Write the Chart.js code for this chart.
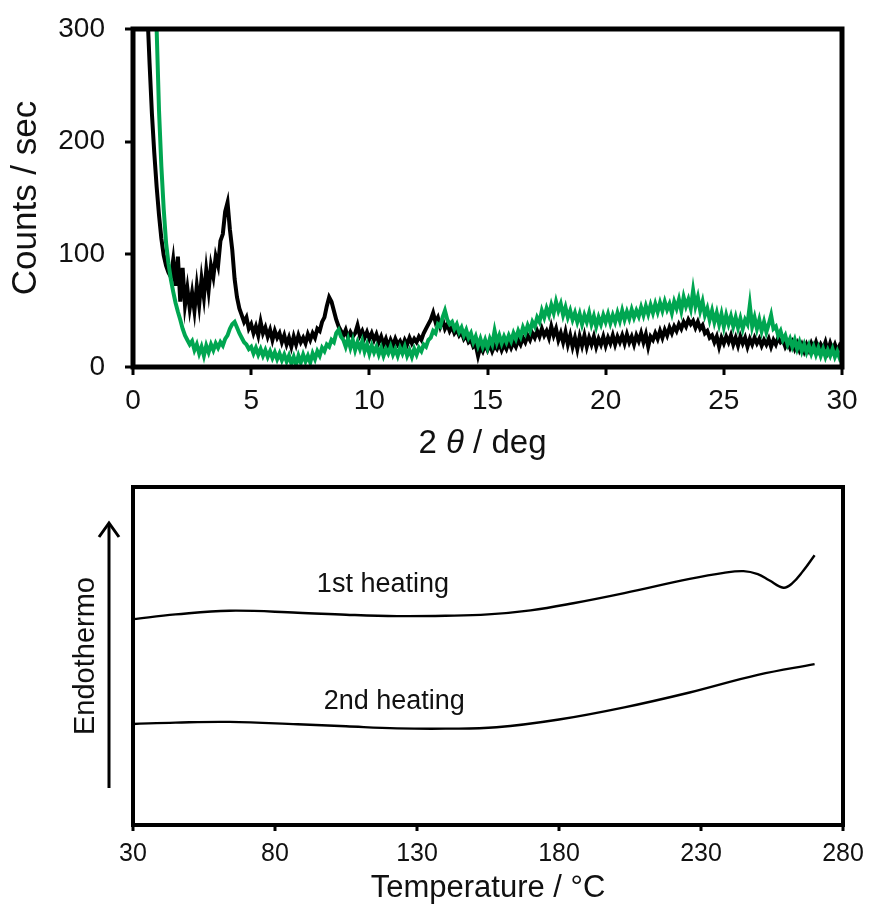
<!DOCTYPE html>
<html>
<head>
<meta charset="utf-8">
<title>XRD and DSC</title>
<script src="https://cdn.jsdelivr.net/npm/chart.js@4.4.1/dist/chart.umd.min.js"></script>
<style>
  html, body { margin: 0; padding: 0; background: #fff; }
  #wrap { position: relative; width: 869px; height: 908px; }
  #xrd { position: absolute; left: 0; top: 0; }
  #dsc { position: absolute; left: 0; top: 460px; }
</style>
</head>
<body>
<div id="wrap">
  <canvas id="xrd" width="869" height="460"></canvas>
  <canvas id="dsc" width="869" height="448"></canvas>
</div>
<script>
const xrdStart = 0.6;
const xrdStep = 0.1;
const xrdTicks = [0, 5, 10, 15, 20, 25, 30];
const countTicks = [0, 100, 200, 300];

const blackCounts = [
  320, 270, 225, 190, 160, 135, 114, 99, 90, 84,
  80, 95, 72, 98, 58, 88, 55, 70, 52, 66,
  50, 72, 55, 78, 62, 86, 68, 90, 80, 98,
  90, 112, 118, 138, 146, 122, 104, 78, 62, 52,
  46, 40, 44, 34, 38, 30, 36, 28, 40, 30,
  35, 27, 33, 24, 32, 26, 30, 22, 28, 20,
  26, 18, 27, 20, 28, 22, 26, 21, 29, 24,
  30, 26, 34, 32, 40, 44, 54, 62, 58, 50,
  42, 36, 32, 28, 33, 26, 31, 27, 30, 37,
  28, 32, 26, 31, 25, 30, 24, 29, 22, 27,
  20, 25, 18, 24, 19, 25, 20, 23, 18, 24,
  20, 26, 21, 25, 22, 27, 24, 30, 34, 38,
  42, 48, 40, 44, 36, 42, 34, 38, 32, 36,
  30, 33, 28, 31, 25, 28, 22, 24, 18, 20,
  10, 18, 14, 20, 15, 20, 14, 19, 16, 21,
  15, 20, 16, 22, 17, 22, 18, 24, 20, 26,
  22, 28, 24, 30, 26, 32, 27, 34, 28, 32,
  26, 36, 28, 34, 24, 30, 22, 31, 20, 28,
  18, 26, 16, 27, 19, 28, 18, 26, 20, 27,
  18, 25, 20, 27, 19, 26, 21, 28, 20, 27,
  22, 28, 21, 29, 22, 27, 20, 28, 23, 30,
  22, 29, 18, 27, 24, 30, 25, 32, 26, 33,
  28, 35, 30, 36, 32, 38, 34, 40, 36, 42,
  38, 41, 35, 40, 34, 37, 30, 32, 26, 28,
  22, 27, 18, 26, 21, 27, 22, 28, 20, 26,
  19, 27, 21, 26, 18, 25, 20, 26, 21, 25,
  19, 24, 20, 25, 18, 24, 20, 26, 22, 24,
  18, 22, 17, 22, 16, 21, 15, 20, 14, 20,
  15, 21, 16, 22, 15, 20, 16, 22, 14, 21,
  15, 20, 14, 19, 16
];

const greenCounts = [
  500, 440, 400, 350, 300, 228, 178, 140, 110, 92,
  78, 67, 57, 49, 42, 34, 28, 24, 20, 23,
  15, 20, 12, 18, 10, 19, 13, 20, 15, 21,
  17, 22, 19, 25, 28, 34, 38, 40, 35, 30,
  26, 22, 20, 16, 18, 12, 17, 11, 16, 10,
  15, 9, 14, 8, 13, 7, 12, 6, 11, 5,
  10, 3, 9, 2, 10, 4, 11, 5, 10, 4,
  12, 7, 14, 10, 17, 14, 20, 18, 24, 22,
  30, 33, 27, 24, 18, 25, 17, 24, 15, 22,
  16, 23, 14, 20, 12, 19, 13, 18, 11, 17,
  10, 16, 12, 18, 11, 16, 10, 17, 12, 18,
  10, 15, 9, 16, 11, 17, 14, 20, 18, 24,
  26, 32, 30, 38, 36, 44, 50, 42, 38, 40,
  34, 38, 31, 35, 28, 33, 26, 30, 22, 27,
  19, 25, 18, 24, 17, 25, 20, 32, 22, 28,
  21, 27, 22, 28, 23, 30, 25, 32, 27, 35,
  30, 37, 32, 40, 36, 44, 40, 50, 44, 52,
  46, 55, 48, 58, 50, 56, 46, 53, 44, 50,
  42, 48, 40, 47, 38, 46, 40, 48, 38, 45,
  36, 44, 38, 46, 40, 47, 39, 46, 40, 48,
  41, 50, 42, 49, 43, 51, 44, 50, 45, 53,
  46, 54, 47, 55, 48, 56, 49, 57, 50, 58,
  51, 56, 48, 58, 52, 60, 50, 62, 54, 60,
  52, 68, 54, 62, 50, 58, 46, 52, 42, 50,
  40, 48, 38, 47, 36, 46, 38, 45, 36, 44,
  35, 43, 34, 42, 38, 55, 36, 44, 34, 42,
  32, 40, 31, 38, 46, 34, 36, 28, 32, 24,
  28, 20, 25, 18, 24, 16, 22, 14, 20, 13,
  19, 12, 18, 11, 17, 10, 16, 9, 15, 10,
  16, 9, 14, 8, 12
];

// DSC traces (arbitrary heat-flow units, 0..100 over the plot height)
const firstTemps = [30, 45, 64, 88, 105, 123, 140, 155, 170, 185, 203, 226, 238, 245, 250, 254, 259, 262, 266, 270];
const firstFlow = [60.9, 62.3, 63.4, 62.8, 62.2, 61.8, 61.9, 62.3, 63.5, 65.6, 68.6, 72.8, 74.6, 75.1, 74.2, 72.4, 70.2, 71.4, 75.2, 79.8];
const secondTemps = [30, 45, 64, 88, 105, 123, 140, 158, 180, 203, 226, 250, 270];
const secondFlow = [29.9, 30.3, 30.5, 29.8, 29.2, 28.6, 28.5, 28.9, 31.2, 34.8, 39.2, 44.4, 47.6];
const tempTicks = [30, 80, 130, 180, 230, 280];

const traceNames = ['1st heating', '2nd heating'];
const traceLabelTemps = [118, 122];
const traceLabelFlows = [71, 36.4];

const FONT = '"Liberation Sans", Arial, Helvetica, sans-serif';
const INK = '#111';

function toPoints(xs, ys) {
  return ys.map((y, i) => ({ x: xs[i], y: y }));
}

const twoTheta = blackCounts.map((_, i) => +(xrdStart + i * xrdStep).toFixed(1));

// thick box round the plot area
const framePlugin = {
  id: 'frame',
  afterDatasetsDraw(chart, args, opts) {
    const { ctx, chartArea: a } = chart;
    ctx.save();
    ctx.strokeStyle = '#000';
    ctx.lineWidth = opts.width || 4;
    ctx.strokeRect(a.left, a.top, a.right - a.left, a.bottom - a.top);
    ctx.restore();
  }
};

// "2 θ / deg" with an italic theta
const thetaTitlePlugin = {
  id: 'thetaTitle',
  afterDraw(chart) {
    const { ctx, chartArea: a } = chart;
    const parts = [['2 ', 'normal'], ['\u03B8', 'italic'], [' / deg', 'normal']];
    ctx.save();
    ctx.fillStyle = INK;
    ctx.textBaseline = 'middle';
    let total = 0;
    parts.forEach(p => {
      ctx.font = p[1] + ' 33px ' + FONT;
      total += ctx.measureText(p[0]).width;
    });
    let x = (a.left + a.right) / 2 - total / 2 - 5;
    const y = chart.scales.x.bottom - 16;
    parts.forEach(p => {
      ctx.font = p[1] + ' 33px ' + FONT;
      ctx.fillText(p[0], x, y);
      x += ctx.measureText(p[0]).width;
    });
    ctx.restore();
  }
};

// upward arrow beside "Endothermo" and the trace names
const dscExtrasPlugin = {
  id: 'dscExtras',
  afterDraw(chart) {
    const { ctx, chartArea: a, scales } = chart;
    ctx.save();
    ctx.strokeStyle = '#000';
    ctx.lineWidth = 3;
    const ax = a.left - 24;
    const tip = a.top + 36;
    ctx.beginPath();
    ctx.moveTo(ax, a.bottom - 37);
    ctx.lineTo(ax, tip + 2);
    ctx.stroke();
    ctx.beginPath();
    ctx.moveTo(ax - 10, tip + 14);
    ctx.lineTo(ax, tip);
    ctx.lineTo(ax + 10, tip + 14);
    ctx.stroke();

    ctx.fillStyle = INK;
    ctx.font = '27px ' + FONT;
    ctx.textAlign = 'center';
    ctx.textBaseline = 'middle';
    traceNames.forEach((name, i) => {
      ctx.fillText(name, scales.x.getPixelForValue(traceLabelTemps[i]), scales.y.getPixelForValue(traceLabelFlows[i]));
    });
    ctx.restore();
  }
};

const tickGrid = (len, w) => ({
  display: true,
  drawOnChartArea: false,
  drawTicks: true,
  tickLength: len,
  tickWidth: w,
  tickColor: '#000',
  lineWidth: 0
});

new Chart(document.getElementById('xrd'), {
  type: 'line',
  data: {
    datasets: [
      {
        label: 'green',
        data: toPoints(twoTheta, greenCounts),
        borderColor: '#00a651',
        borderWidth: 4,
        pointRadius: 0,
        tension: 0,
        order: 0
      },
      {
        label: 'black',
        data: toPoints(twoTheta, blackCounts),
        borderColor: '#000',
        borderWidth: 4,
        pointRadius: 0,
        tension: 0,
        order: 1
      }
    ]
  },
  options: {
    responsive: false,
    animation: false,
    events: [],
    layout: { padding: { top: 29, right: 27, left: 0, bottom: 0 } },
    plugins: { legend: { display: false }, tooltip: { enabled: false }, frame: { width: 5 } },
    scales: {
      x: {
        type: 'linear',
        min: 0,
        max: 30,
        afterBuildTicks: s => { s.ticks = xrdTicks.map(v => ({ value: v })); },
        afterFit: s => { s.height = 93; s.paddingLeft = 0; s.paddingRight = 0; },
        border: { display: false },
        grid: tickGrid(8, 3),
        ticks: { color: INK, padding: 9, maxRotation: 0, autoSkip: false, font: { family: FONT, size: 28 } }
      },
      y: {
        min: 0,
        max: 300,
        afterBuildTicks: s => { s.ticks = countTicks.map(v => ({ value: v })); },
        afterFit: s => { s.width = 133; s.paddingTop = 0; s.paddingBottom = 0; },
        border: { display: false },
        grid: tickGrid(8, 3),
        ticks: { color: INK, padding: 20, font: { family: FONT, size: 28 } },
        title: { display: true, text: 'Counts / sec', color: INK, padding: { top: 5, bottom: 0 }, font: { family: FONT, size: 35 } }
      }
    }
  },
  plugins: [framePlugin, thetaTitlePlugin]
});

new Chart(document.getElementById('dsc'), {
  type: 'line',
  data: {
    datasets: [
      {
        label: traceNames[0],
        data: toPoints(firstTemps, firstFlow),
        borderColor: '#000',
        borderWidth: 2.4,
        pointRadius: 0,
        tension: 0.4
      },
      {
        label: traceNames[1],
        data: toPoints(secondTemps, secondFlow),
        borderColor: '#000',
        borderWidth: 2.4,
        pointRadius: 0,
        tension: 0.4
      }
    ]
  },
  options: {
    responsive: false,
    animation: false,
    events: [],
    layout: { padding: { top: 27, right: 26, left: 0, bottom: 0 } },
    plugins: { legend: { display: false }, tooltip: { enabled: false }, frame: { width: 4 } },
    scales: {
      x: {
        type: 'linear',
        min: 30,
        max: 280,
        afterBuildTicks: s => { s.ticks = tempTicks.map(v => ({ value: v })); },
        afterFit: s => { s.height = 83; s.paddingLeft = 0; s.paddingRight = 0; },
        border: { display: false },
        grid: tickGrid(6, 3),
        ticks: { color: INK, padding: 8, maxRotation: 0, autoSkip: false, font: { family: FONT, size: 25 } },
        title: { display: true, text: 'Temperature / \u00B0C', color: INK, padding: { top: 0, bottom: 1 }, font: { family: FONT, size: 31 } }
      },
      y: {
        min: 0,
        max: 100,
        afterFit: s => { s.width = 133; s.paddingTop = 0; s.paddingBottom = 0; },
        border: { display: false },
        grid: { display: false },
        ticks: { display: false },
        title: { display: true, text: 'Endothermo', color: INK, padding: { top: 69, bottom: 0 }, font: { family: FONT, size: 29 } }
      }
    }
  },
  plugins: [framePlugin, dscExtrasPlugin]
});
</script>
</body>
</html>
